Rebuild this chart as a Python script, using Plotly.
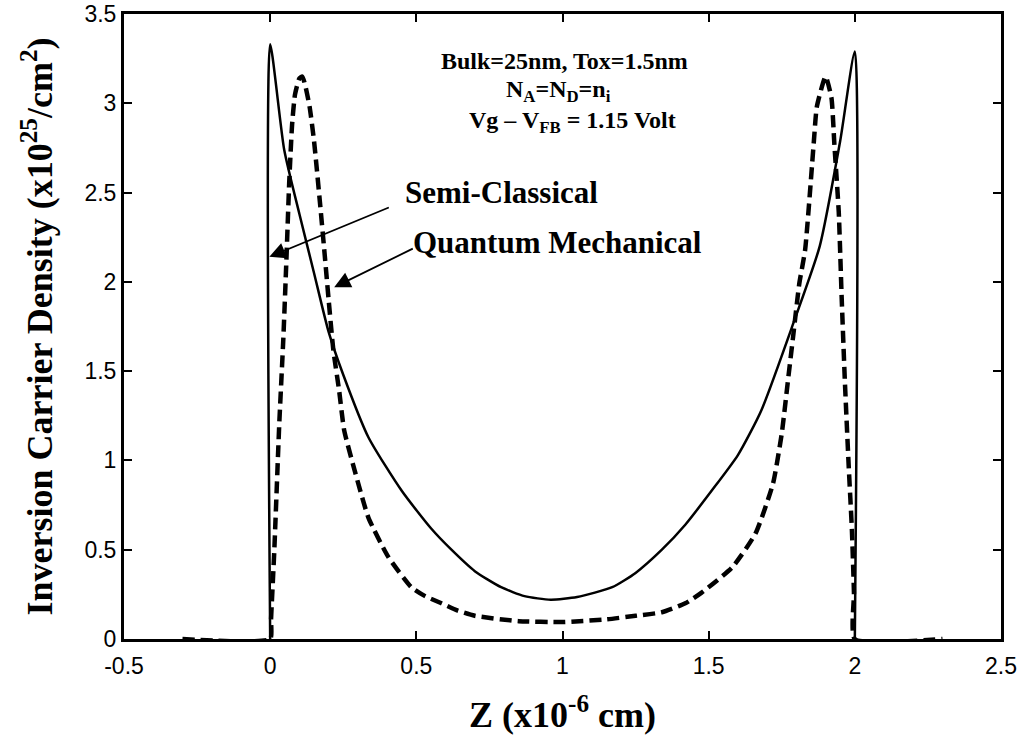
import plotly.graph_objects as go

# Depth across the film, in units of 1e-6 cm
z_semi = [0.0, 0.0, 0.048, 0.1, 0.15, 0.2, 0.25, 0.336, 0.45, 0.55, 0.62, 0.7,
          0.79, 0.87, 0.96, 1.05, 1.17, 1.25, 1.34, 1.42, 1.51, 1.6, 1.68,
          1.79, 1.88, 1.95, 2.0, 2.0]
# Semi-classical inversion carrier density (x1e25 / cm^2)
n_semi = [0.0, 3.33, 2.74, 2.38, 2.05, 1.72, 1.48, 1.13, 0.83, 0.62, 0.50, 0.38,
          0.29, 0.24, 0.22, 0.235, 0.29, 0.37, 0.50, 0.64, 0.83, 1.03, 1.28,
          1.77, 2.20, 2.79, 3.29, 0.0]

z_qm = [-0.3, 0.0, 0.003, 0.014, 0.031, 0.045, 0.055, 0.065, 0.075, 0.085, 0.1,
        0.11, 0.12, 0.135, 0.15, 0.17, 0.185, 0.2, 0.216, 0.236, 0.253, 0.288,
        0.336, 0.404, 0.483, 0.53, 0.586, 0.64, 0.7, 0.85, 1.0, 1.15, 1.25,
        1.34, 1.42, 1.476, 1.58, 1.66, 1.72, 1.75, 1.77, 1.79, 1.81, 1.83,
        1.86, 1.87, 1.9, 1.92, 1.93, 1.945, 1.955, 1.966, 1.979, 1.99, 1.997,
        2.0, 2.3]
# Quantum-mechanical inversion carrier density (x1e25 / cm^2)
n_qm = [0.0, 0.0, 0.11, 0.49, 1.20, 1.68, 2.10, 2.55, 2.88, 3.05, 3.14,
        3.15, 3.10, 2.98, 2.79, 2.45, 2.18, 1.90, 1.62, 1.39, 1.17, 0.95,
        0.68, 0.46, 0.29, 0.24, 0.20, 0.16, 0.13, 0.10, 0.095, 0.11, 0.13,
        0.15, 0.20, 0.26, 0.40, 0.59, 0.87, 1.15, 1.43, 1.71, 1.99, 2.18,
        2.79, 2.98, 3.15, 3.03, 2.77, 2.39, 1.91, 1.44, 0.97, 0.61, 0.26,
        0.0, 0.0]

x_ticks = [-0.5, 0, 0.5, 1, 1.5, 2, 2.5]
x_tick_text = ["-0.5", "0", "0.5", "1", "1.5", "2", "2.5"]
y_ticks = [0, 0.5, 1, 1.5, 2, 2.5, 3, 3.5]
y_tick_text = ["0", "0.5", "1", "1.5", "2", "2.5", "3", "3.5"]

SERIF = "Liberation Serif"
SANS = "Liberation Sans"

fig = go.Figure()
fig.add_trace(go.Scatter(
    x=z_semi, y=n_semi, mode="lines", name="Semi-Classical",
    line=dict(color="black", width=2.5, shape="spline", smoothing=0.6),
))
fig.add_trace(go.Scatter(
    x=z_qm, y=n_qm, mode="lines", name="Quantum Mechanical",
    line=dict(color="black", width=4.5, dash="12px,6px", shape="spline", smoothing=0.5),
))

axis_common = dict(
    showline=True, linecolor="black", linewidth=3, mirror="ticks",
    ticks="inside", ticklen=8, tickwidth=2, tickcolor="black",
    showgrid=False, zeroline=False, automargin=False,
)

fig.update_xaxes(
    range=[-0.5, 2.5], tickvals=x_ticks, ticktext=x_tick_text,
    layer="below traces", ticklabelstandoff=4,
    tickfont=dict(family=SANS, size=23, color="black"),
    title=dict(text="Z (x10<sup>-6</sup> cm)",
               font=dict(family=SERIF, size=36, color="black", weight="bold"),
               standoff=25),
    **axis_common,
)
fig.update_yaxes(
    range=[0, 3.5], tickvals=y_ticks, ticktext=y_tick_text,
    tickfont=dict(family=SANS, size=23, color="black"),
    title=dict(text="Inversion Carrier Density (x10<sup>25</sup>/cm<sup>2</sup>)",
               font=dict(family=SERIF, size=36, color="black", weight="bold"),
               standoff=21),
    **axis_common,
)

head_font = dict(family=SERIF, size=24, color="black", weight="bold")
label_font = dict(family=SERIF, size=31, color="black", weight="bold")

# parameter block, one annotation per line
annotations = [
    dict(text="Bulk=25nm, Tox=1.5nm", x=0.502, y=0.925, font=head_font),
    dict(text="N<sub>A</sub>=N<sub>D</sub>=n<sub>i</sub>", x=0.495, y=0.877, font=head_font),
    dict(text="Vg \u2013 V<sub>FB</sub> = 1.15 Volt", x=0.511, y=0.828, font=head_font),
]
for a in annotations:
    a.update(xref="paper", yref="paper", xanchor="center", yanchor="middle", showarrow=False)

annotations += [
    dict(text="Semi-Classical", x=0.318, y=0.714, xref="paper", yref="paper",
         xanchor="left", yanchor="middle", showarrow=False, font=label_font),
    dict(text="Quantum Mechanical", x=0.327, y=0.634, xref="paper", yref="paper",
         xanchor="left", yanchor="middle", showarrow=False, font=label_font),
    # pointer arrows from the labels to their curves
    dict(text="", x=-0.003, y=2.14, ax=0.411, ay=2.42, xref="x", yref="y",
         axref="x", ayref="y", showarrow=True, arrowhead=2, arrowsize=1.8,
         arrowwidth=1.8, arrowcolor="black", standoff=0),
    dict(text="", x=0.219, y=1.97, ax=0.493, ay=2.19, xref="x", yref="y",
         axref="x", ayref="y", showarrow=True, arrowhead=2, arrowsize=1.8,
         arrowwidth=1.8, arrowcolor="black", standoff=0),
]

fig.update_layout(
    width=1025, height=746,
    margin=dict(l=124, r=24, t=14, b=107),
    paper_bgcolor="white", plot_bgcolor="white",
    showlegend=False,
    annotations=annotations,
)

fig.write_html("out.html")
